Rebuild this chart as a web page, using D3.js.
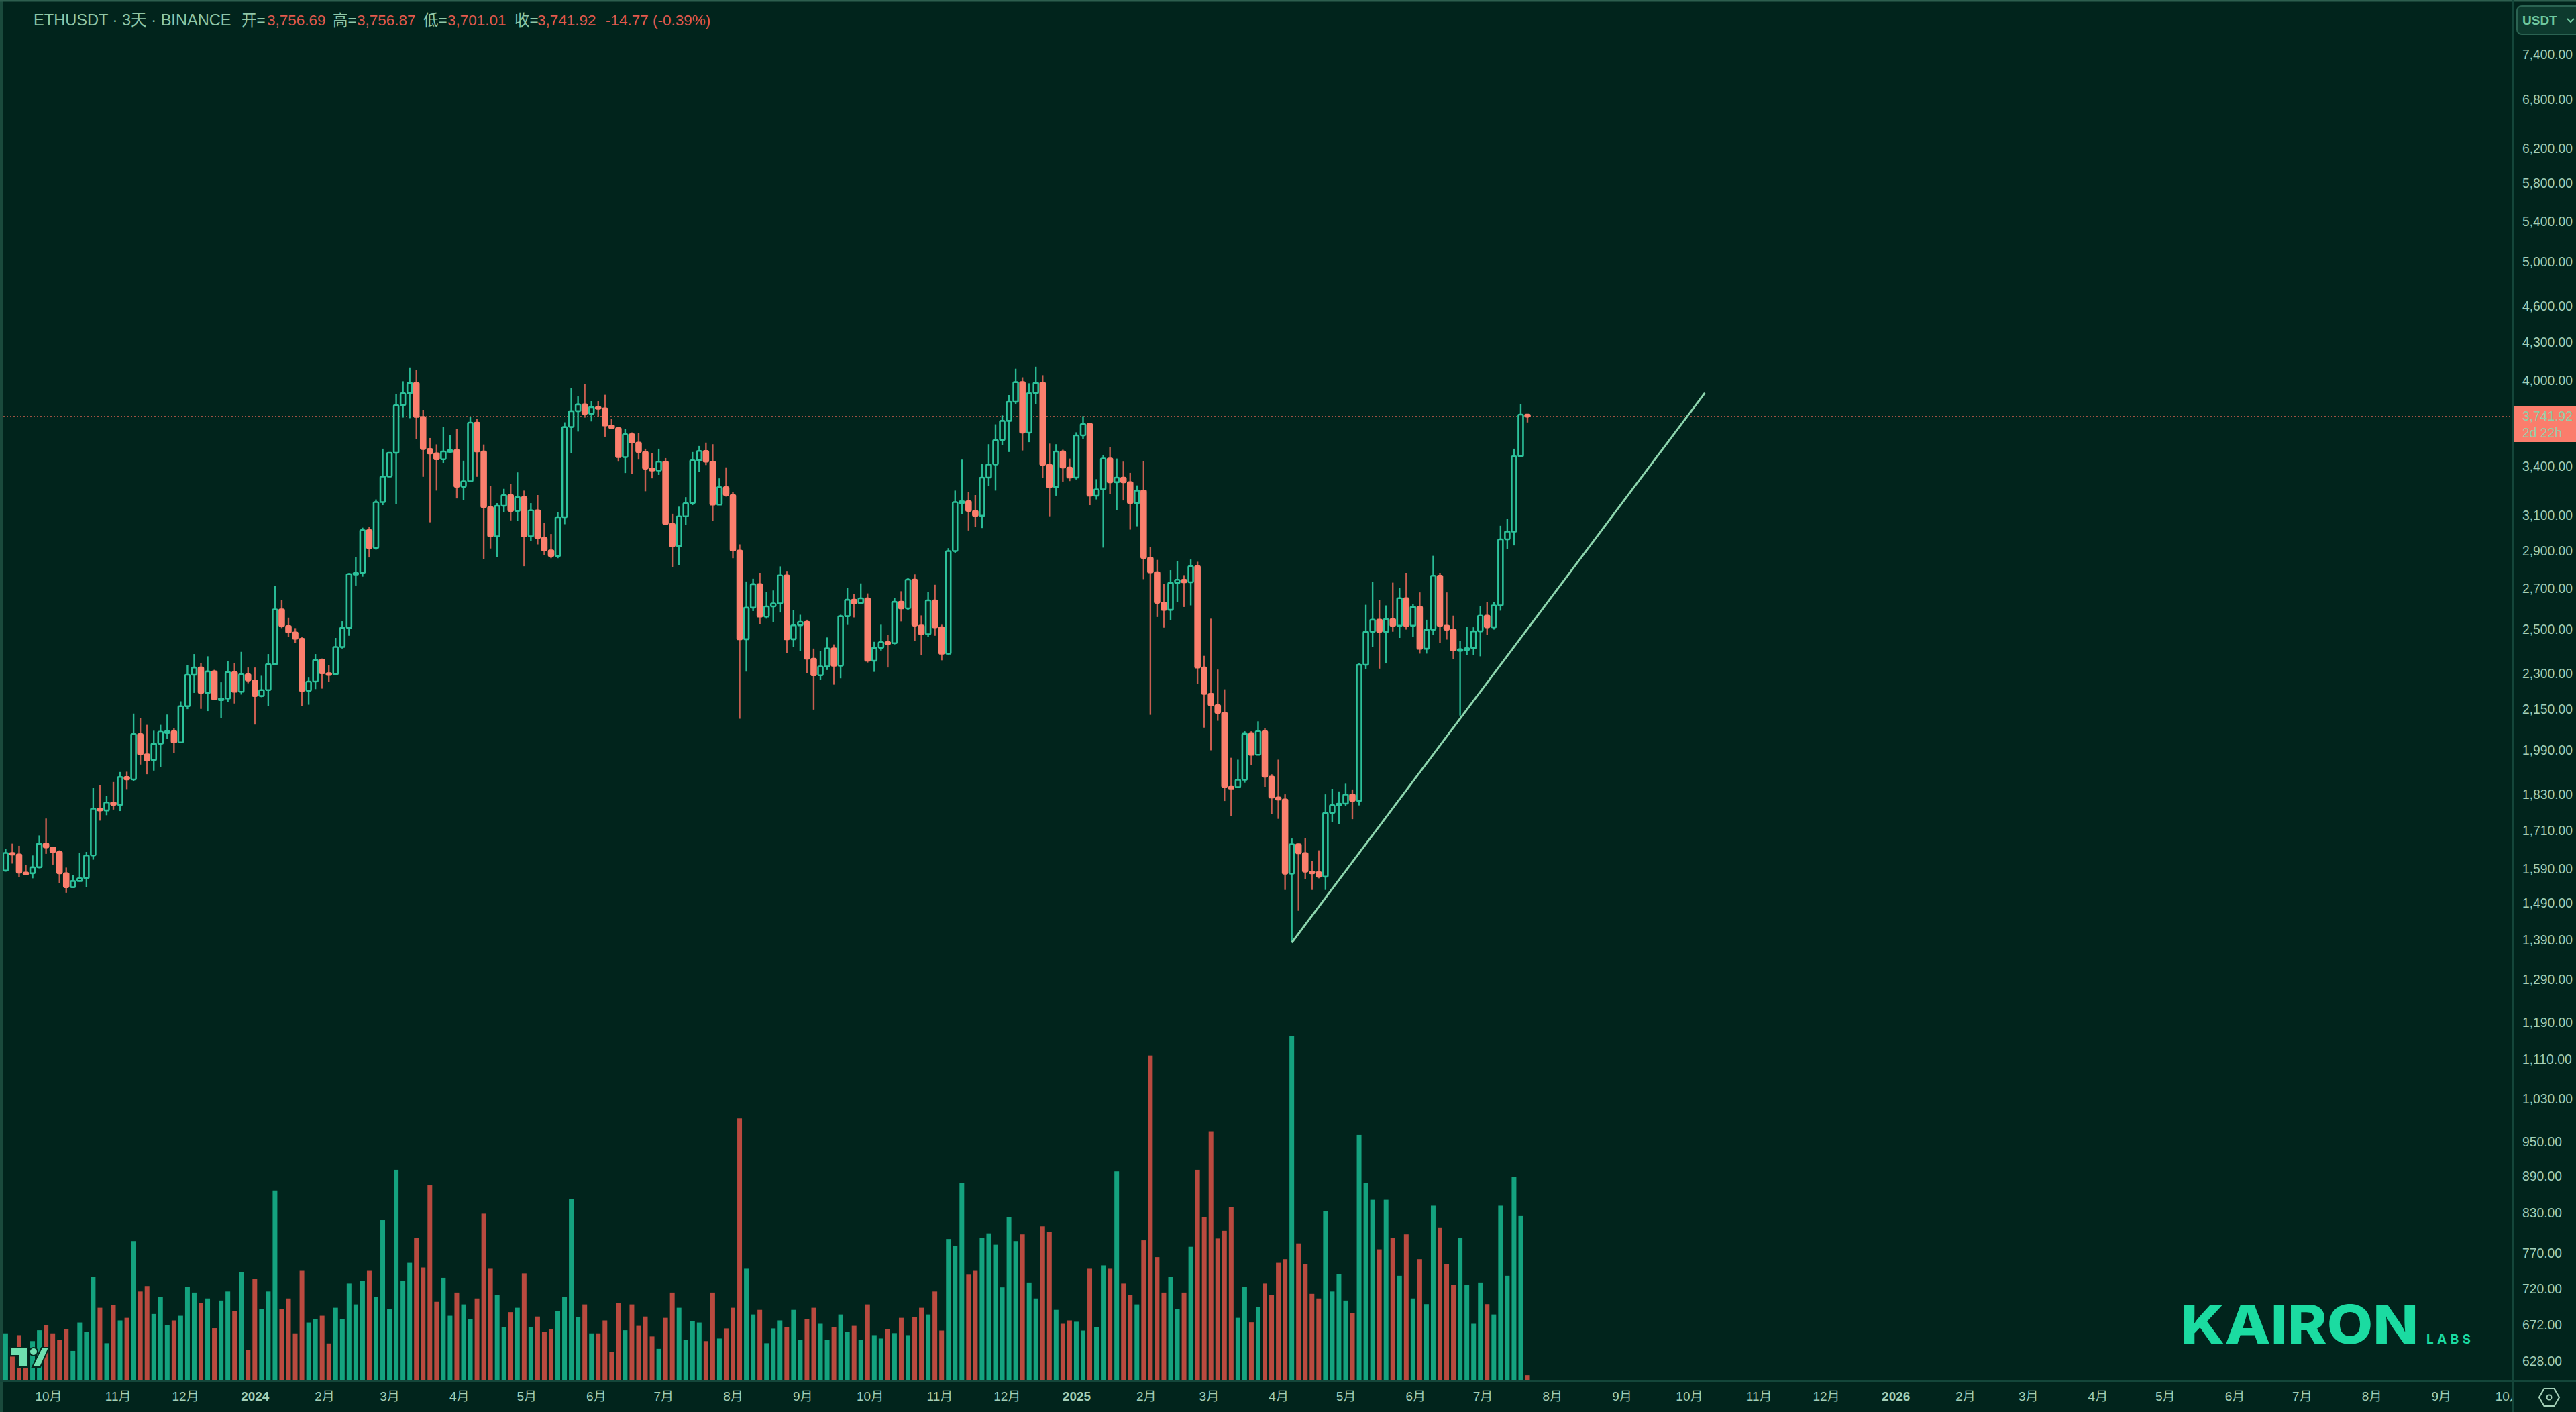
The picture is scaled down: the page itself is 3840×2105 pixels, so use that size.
<!DOCTYPE html>
<html>
<head>
<meta charset="utf-8">
<script src="https://cdn.jsdelivr.net/npm/d3@7"></script>
<style>
    html, body { margin: 0; padding: 0; background: #01241c; overflow: hidden; }
    svg { display: block; }
    text { font-family: "Liberation Sans", "Noto Sans CJK SC", sans-serif; }
</style>
</head>
<body>
<script>
// 3 day candles, first bar date and first open
const firstDate = new Date(Date.UTC(2023, 8, 12))
const firstOpen = 1588

const closes = [1642,1637,1582,1580,1598,1671,1659,1645,1580,1539,
    1557,1565,1634,1785,1779,1806,1798,1895,1886,2055,
    1978,1956,2018,2064,2066,2023,2166,2298,2330,2221,
    2313,2194,2198,2310,2226,2300,2274,2208,2233,2345,
    2600,2520,2490,2460,2230,2269,2364,2305,2300,2422,
    2511,2780,2786,3020,2920,3184,3342,3495,3824,3911,
    3988,3740,3520,3491,3452,3504,3513,3278,3312,3700,
    3504,3154,2985,3162,3227,3131,3214,2985,3135,2976,
    2907,2876,3095,3669,3781,3829,3763,3810,3800,3680,
    3661,3466,3620,3563,3500,3392,3380,3437,3056,2930,
    3100,3178,3445,3507,3437,3169,3275,3227,2906,2458,
    2609,2727,2565,2615,2630,2773,2458,2523,2540,2369,
    2296,2335,2416,2338,2567,2648,2631,2655,2360,2418,
    2444,2440,2638,2605,2751,2522,2481,2645,2514,2392,
    2903,3184,3189,3131,3103,3335,3419,3580,3712,3848,
    3994,3630,3911,3989,3416,3275,3504,3399,3335,3612,
    3690,3223,3262,3457,3306,3335,3306,3178,3254,2866,
    2789,2633,2598,2734,2750,2737,2821,2330,2217,2170,
    2139,1860,1859,1885,2056,1976,2066,1896,1823,1816,
    1579,1669,1641,1585,1583,1570,1771,1797,1802,1833,
    1812,2342,2493,2550,2493,2553,2521,2656,2521,2613,
    2414,2503,2771,2521,2503,2406,2412,2417,2495,2570,
    2514,2620,2968,3012,3472,3756.69,3741.92]

const highs = [1654,1671,1664,1604,1634,1697,1752,1660,1650,1597,
    1575,1643,1645,1857,1865,1829,1877,1913,1914,2136,
    2119,2091,2068,2091,2132,2078,2186,2340,2390,2350,
    2380,2320,2266,2360,2350,2400,2330,2330,2294,2390,
    2717,2645,2560,2510,2470,2286,2390,2370,2340,2464,
    2543,2785,2870,3034,3037,3200,3522,3495,3904,4000,
    4106,4088,3790,3594,3551,3671,3615,3654,3443,3738,
    3725,3550,3281,3178,3265,3296,3368,3254,3178,3227,
    3063,2998,3123,3702,3950,3887,3978,3853,3853,3899,
    3725,3670,3655,3632,3630,3522,3491,3522,3460,3115,
    3157,3214,3500,3540,3563,3552,3330,3400,3243,2940,
    2741,2755,2786,2688,2695,2820,2796,2598,2574,2550,
    2415,2403,2466,2434,2574,2708,2677,2731,2680,2446,
    2526,2479,2657,2691,2761,2778,2571,2687,2724,2526,
    2919,3254,3450,3246,3227,3424,3552,3688,3750,3897,
    4096,4030,3985,4111,4046,3556,3552,3515,3457,3633,
    3745,3700,3325,3478,3531,3457,3437,3365,3286,3440,
    2925,2855,2729,2800,2849,2774,2857,2845,2382,2555,
    2321,2236,1965,1958,2066,2066,2105,2078,1905,1958,
    1834,1687,1671,1689,1617,1650,1834,1853,1844,1871,
    1851,2348,2623,2740,2647,2620,2735,2709,2786,2628,
    2685,2550,2877,2786,2685,2570,2450,2516,2514,2615,
    2637,2637,3045,3084,3522,3833,3756.87]

const lows = [1585,1609,1568,1574,1565,1595,1639,1606,1550,1523,
    1538,1555,1540,1621,1745,1763,1782,1777,1852,1881,
    1940,1905,1918,1930,2036,1984,2020,2154,2221,2155,
    2146,2191,2117,2182,2177,2214,2262,2092,2203,2166,
    2340,2510,2470,2440,2166,2172,2237,2239,2267,2298,
    2415,2474,2720,2766,2868,2911,3166,3340,3173,3735,
    3731,3589,3340,3065,3254,3429,3495,3206,3198,3307,
    3340,2860,2917,2870,3123,3076,3072,2821,2958,2940,
    2882,2864,2864,3054,3492,3638,3735,3708,3740,3603,
    3655,3437,3364,3357,3450,3250,3330,3352,3052,2815,
    2828,3052,3166,3370,3415,3073,3166,3217,2864,2115,
    2312,2592,2530,2555,2540,2585,2395,2422,2405,2304,
    2152,2277,2319,2256,2283,2525,2561,2625,2352,2311,
    2406,2330,2434,2542,2598,2451,2384,2470,2474,2362,
    2388,2892,3111,3018,3037,3032,3283,3254,3546,3500,
    3830,3510,3566,3830,3335,3100,3223,3310,3313,3323,
    3585,3166,3200,2922,3231,3137,3194,3023,3042,2753,
    2131,2563,2512,2549,2638,2612,2620,2258,2080,1993,
    2107,1811,1760,1860,1875,1938,1976,1860,1768,1751,
    1531,1386,1472,1563,1531,1565,1531,1741,1734,1793,
    1750,1796,2322,2421,2325,2348,2493,2464,2503,2470,
    2392,2392,2478,2440,2456,2369,2128,2385,2385,2380,
    2478,2503,2594,2914,2934,3474,3701.01]

const volumes = [185,95,178,100,155,197,218,185,160,200,
    117,227,190,405,284,147,294,235,245,542,
    347,368,260,325,217,235,253,365,343,302,
    320,205,312,347,270,423,120,395,280,347,
    738,280,320,185,427,227,240,253,146,284,
    240,378,297,387,427,325,623,280,818,387,
    458,555,440,758,307,400,253,343,297,240,
    320,648,435,333,210,267,284,417,210,250,
    192,200,270,325,705,248,297,185,185,235,
    112,302,197,297,214,250,173,125,245,343,
    284,160,232,227,155,343,165,204,284,1017,
    435,258,276,147,204,235,210,276,160,240,
    284,222,160,210,258,192,214,160,297,178,
    165,200,186,245,178,248,284,258,347,196,
    550,523,768,412,427,555,572,528,363,635,
    542,568,382,320,599,577,276,222,235,230,
    196,435,209,448,435,812,378,333,297,545,
    1260,480,343,404,280,343,520,818,635,967,
    552,582,675,245,365,228,288,378,333,458,
    472,1337,533,453,338,320,658,347,413,312,
    263,953,768,702,510,702,555,408,568,320,
    472,298,679,595,453,373,555,373,222,382,
    298,258,679,408,790,639,23]

const priceTicks = [7400,6800,6200,5800,5400,5000,4600,4300,4000,3400,3100,2900,2700,2500,2300,2150,
    1990,1830,1710,1590,1490,1390,1290,1190,1110,1030,950,890,830,770,720,672,628]

const headerLabels = ['开=', '高=', '低=', '收=']
const headerValues = ['3,756.69', '3,756.87', '3,701.01', '3,741.92']
const lastPrice = 3741.92

// trend line drawn by hand on the chart, date + price at both ends
const trendDates = [new Date(Date.UTC(2025, 3, 7)), new Date(Date.UTC(2025, 9, 8))]
const trendPrices = [1386, 3913]

const width = 3840, height = 2105
const plotRight = 3746, plotBottom = 2059
const bg = '#01241c', border = '#14463a', textCol = '#a3cfb7'
const upCol = '#2cc29b', downCol = '#fb7f6d', upWick = '#28ba95', downWick = '#c85e50'
const upVol = '#14a37f', downVol = '#b94a3f'

const opens = [firstOpen, ...closes.slice(0, -1)]
const bars = closes.map((c, i) => ({
    date: d3.utcDay.offset(firstDate, 3 * i),
    open: opens[i], high: highs[i], low: lows[i], close: c, volume: volumes[i]
}))

const svg = d3.select('body').append('svg')
    .attr('width', width)
    .attr('height', height)

svg.append('rect').attr('width', width).attr('height', height).attr('fill', bg)

//scales
const xScale = d3.scaleUtc()
    .domain([firstDate, bars[bars.length - 1].date])
    .range([8.4, 2277])

const yScale = d3.scaleLog()
    .domain([605.6, 8217])
    .range([plotBottom, 0])

const volScale = d3.scaleLinear()
    .domain([0, 1337])
    .range([plotBottom, 1544])

//xAxis, month labels run past the data up to the price axis
svg.append('clipPath').attr('id', 'plotClip')
    .append('rect').attr('width', plotRight).attr('height', height)

const xAxis = d3.axisBottom(xScale)
    .tickValues(d3.utcMonth.range(new Date(Date.UTC(2023, 9, 1)), new Date(Date.UTC(2026, 10, 1))))
    .tickSize(0)
    .tickPadding(16)
    .tickFormat(d => d.getUTCMonth() === 0 ? d.getUTCFullYear() : (d.getUTCMonth() + 1) + '月')

svg.append('g')
    .attr('clip-path', 'url(#plotClip)')
    .append('g')
    .attr('transform', 'translate(0,' + plotBottom + ')')
    .call(xAxis)
    .call(g => g.select('.domain').remove())
    .selectAll('text')
    .attr('fill', textCol)
    .attr('font-size', 19)
    .attr('font-weight', d => d.getUTCMonth() === 0 ? 'bold' : 'normal')
    .style('font-family', '"Liberation Sans", "Noto Sans CJK SC", sans-serif')

//yAxis
const yAxis = d3.axisRight(yScale)
    .tickValues(priceTicks)
    .tickSize(0)
    .tickPadding(14)
    .tickFormat(d3.format(',.2f'))

svg.append('g')
    .attr('transform', 'translate(' + plotRight + ',-1.5)')
    .call(yAxis)
    .call(g => g.select('.domain').remove())
    .selectAll('text')
    .attr('fill', textCol)
    .attr('font-size', 19.3)
    .style('font-family', '"Liberation Sans", sans-serif')

//volume bars
svg.append('g').selectAll('rect').data(bars).enter()
    .append('rect')
    .attr('x', d => xScale(d.date) - 3.5)
    .attr('y', d => volScale(d.volume))
    .attr('width', 7)
    .attr('height', d => plotBottom - volScale(d.volume))
    .attr('fill', d => d.close >= d.open ? upVol : downVol)

//dotted last price line
svg.append('line')
    .attr('x1', 0).attr('x2', plotRight)
    .attr('y1', yScale(lastPrice)).attr('y2', yScale(lastPrice))
    .attr('stroke', '#d0604f')
    .attr('stroke-width', 1.8)
    .attr('stroke-dasharray', '2 3')

//candles, up is hollow and down is filled
const candles = svg.append('g').selectAll('g').data(bars).enter().append('g')

candles.append('line')
    .attr('x1', d => xScale(d.date)).attr('x2', d => xScale(d.date))
    .attr('y1', d => yScale(d.high)).attr('y2', d => yScale(d.low))
    .attr('stroke', d => d.close >= d.open ? upWick : downWick)
    .attr('stroke-width', 2.4)

candles.append('rect')
    .attr('x', d => xScale(d.date) - 3.5)
    .attr('y', d => yScale(Math.max(d.open, d.close)))
    .attr('width', 7)
    .attr('height', d => Math.max(2.5, Math.abs(yScale(d.open) - yScale(d.close))))
    .attr('rx', 1.5)
    .attr('fill', d => d.close >= d.open ? bg : downCol)
    .attr('stroke', d => d.close >= d.open ? upCol : downCol)
    .attr('stroke-width', 2.6)

//trend line
svg.append('line')
    .attr('x1', xScale(trendDates[0])).attr('y1', yScale(trendPrices[0]))
    .attr('x2', xScale(trendDates[1])).attr('y2', yScale(trendPrices[1]))
    .attr('stroke', '#8dd6ae')
    .attr('stroke-width', 3)

//panel borders
svg.append('rect').attr('x', 0).attr('y', 0).attr('width', 5).attr('height', height).attr('fill', '#1a4a3c')
svg.append('rect').attr('x', 0).attr('y', 0).attr('width', width).attr('height', 2.5).attr('fill', '#2d5e4e')
svg.append('rect').attr('x', plotRight - 1).attr('y', 0).attr('width', 3).attr('height', height).attr('fill', border)
svg.append('rect').attr('x', 0).attr('y', plotBottom - 1).attr('width', width).attr('height', 2.5).attr('fill', border)

//header line
const header = svg.append('g').attr('font-size', 22.5)
header.append('text').attr('x', 50).attr('y', 38).attr('fill', '#8fc7a8').attr('font-size', 23.6)
    .text('ETHUSDT · 3天 · BINANCE')

const labelX = [360, 496, 631, 767], valueX = [398, 532, 667, 801]
headerLabels.forEach((l, i) => {
    header.append('text').attr('x', labelX[i]).attr('y', 38).attr('fill', '#8fc7a8').text(l)
    header.append('text').attr('x', valueX[i]).attr('y', 38).attr('fill', '#e25a4e').text(headerValues[i])
})
header.append('text').attr('x', 903).attr('y', 38).attr('fill', '#e25a4e').text('-14.77 (-0.39%)')

//USDT button
svg.append('rect')
    .attr('x', 3752).attr('y', 9).attr('width', 100).attr('height', 42).attr('rx', 7)
    .attr('fill', '#0d3a2e').attr('stroke', '#2b6352').attr('stroke-width', 2)
svg.append('text').attr('x', 3760).attr('y', 37).attr('fill', '#6fc79e')
    .attr('font-size', 19).attr('font-weight', 'bold').text('USDT')
svg.append('path').attr('d', 'M3827 28 L3832 33 L3837 28')
    .attr('fill', 'none').attr('stroke', '#6fc79e').attr('stroke-width', 2.2)

//last price tag
svg.append('rect').attr('x', plotRight + 1).attr('y', 606).attr('width', width - plotRight).attr('height', 53)
    .attr('fill', '#fb7d6c')
svg.append('text').attr('x', 3760).attr('y', 627).attr('fill', '#8fd0a8').attr('font-size', 19.3).text('3,741.92')
svg.append('text').attr('x', 3760).attr('y', 652).attr('fill', '#8fd0a8').attr('font-size', 19.3).text('2d 22h')

//settings icon
svg.append('polygon')
    .attr('points', d3.range(6).map(i => {
        let a = Math.PI / 3 * i
        return [3800 + 15 * Math.cos(a), 2083 + 15 * Math.sin(a)].join(',')
    }).join(' '))
    .attr('fill', 'none').attr('stroke', textCol).attr('stroke-width', 2.2)
svg.append('circle').attr('cx', 3800).attr('cy', 2083).attr('r', 3.5)
    .attr('fill', 'none').attr('stroke', textCol).attr('stroke-width', 2)

//tradingview mark
const tv = svg.append('g').attr('transform', 'translate(15,2007)')
    .attr('fill', '#6fe0b0').attr('stroke', '#06281f').attr('stroke-width', 2)
tv.append('path').attr('d', 'M0 2 H26 V31 H12 V14 H0 Z')
tv.append('circle').attr('cx', 35).attr('cy', 8).attr('r', 6)
tv.append('path').attr('d', 'M47 2 H58 L45 31 H33 Z')

//logo
svg.append('text').attr('x', 3251).attr('y', 2003)
    .attr('fill', '#1bdba1').attr('font-size', 80).attr('font-weight', 800)
    .attr('textLength', 354).attr('lengthAdjust', 'spacingAndGlyphs')
    .style('font-family', 'Inter, sans-serif')
    .text('KAIRON')
svg.append('text').attr('x', 3617).attr('y', 2003)
    .attr('fill', '#1bdba1').attr('font-size', 19).attr('font-weight', 700)
    .attr('textLength', 66)
    .style('font-family', 'Inter, sans-serif')
    .text('LABS')
</script>
</body>
</html>
